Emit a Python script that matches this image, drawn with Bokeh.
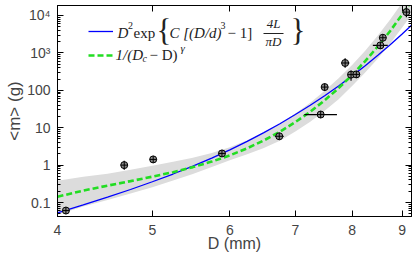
from bokeh.plotting import figure
from bokeh.models import (FixedTicker, LogAxis, CustomJSTickFormatter, BasicTickFormatter,
                          Legend, LegendItem, Label, BoxAnnotation, Range1d)
from bokeh.core.properties import value
from bokeh.embed import file_html
from bokeh.resources import INLINE

# ---- measured points (D in mm, <m> in g) with error bars ----
D    = [4.08, 4.68, 5.01, 5.89, 6.74, 7.43, 7.50, 7.87, 7.98, 8.08, 8.55, 8.60, 9.09]
D_lo = [4.06, 4.66, 4.98, 5.86, 6.67, 7.15, 7.48, 7.80, 7.96, 8.05, 8.40, 8.58, 9.07]
D_hi = [4.10, 4.70, 5.04, 5.92, 6.81, 7.72, 7.52, 7.95, 8.00, 8.11, 8.70, 8.62, 9.11]
m    = [0.061, 1.0, 1.42, 2.05, 5.9, 22.5, 122, 537, 262, 266, 1585, 2540, 12300]
m_lo = [0.050, 0.75, 1.30, 1.90, 5.5, 21, 96, 400, 180, 250, 1500, 2300, 9000]
m_hi = [0.075, 1.30, 1.55, 2.20, 6.4, 24, 150, 720, 340, 285, 1700, 2800, 18000]

# ---- fitted curves ----
curve_D = [4.0, 4.25, 4.5, 4.75, 5.0, 5.25, 5.5, 5.75, 6.0, 6.25, 6.5, 6.75,
           7.0, 7.25, 7.5, 7.75, 8.0, 8.25, 8.5, 8.75, 9.0, 9.2]
blue_m  = [0.0525, 0.086, 0.139, 0.223, 0.359, 0.578, 0.944, 1.545, 2.567, 4.33, 7.38, 12.78,
           22.5, 39.8, 71.8, 131, 243, 455, 860, 1651, 3210, 5490]
green_m = [0.143, 0.208, 0.283, 0.373, 0.490, 0.648, 0.884, 1.24, 1.82, 2.82, 4.57, 7.80,
           14.1, 26.8, 53.9, 114, 255, 603, 1485, 3856, 10550, 24200]
band_hi = [0.382, 0.491, 0.592, 0.757, 0.962, 1.234, 1.584, 2.092, 2.98, 4.61, 7.46, 12.76,
           23.8, 46.6, 96.6, 211, 472, 1148, 2920, 7810, 22000, 53700]
band_lo = [0.0473, 0.0778, 0.1163, 0.1734, 0.257, 0.385, 0.575, 0.886, 1.342, 1.95, 2.88, 4.49,
           7.88, 14.5, 28.3, 58.0, 130, 297, 711, 1789, 4746, 10250]

x_ticks = [4, 5, 6, 7, 8, 9]
y_ticks = [0.1, 1, 10, 100, 1000, 10000]
y_minor = [k * 10.0 ** e for e in range(-2, 5) for k in range(2, 10)]

W, H = 415, 257
B_LEFT, B_RIGHT, B_TOP, B_BOTTOM = 57, 4, 5, 41
FRAME_W = W - B_LEFT - B_RIGHT
FRAME_H = H - B_TOP - B_BOTTOM

p = figure(width=W, height=H, x_axis_type="log", y_axis_type="log",
           x_range=Range1d(4.0, 9.2), y_range=Range1d(0.0423, 18480),
           output_backend="svg", toolbar_location=None,
           min_border_left=B_LEFT, min_border_right=B_RIGHT,
           min_border_top=B_TOP, min_border_bottom=B_BOTTOM)
p.grid.visible = False
p.outline_line_color = "black"
p.outline_line_width = 1
p.background_fill_color = "white"
p.border_fill_color = "white"

band_r = p.varea(x=curve_D, y1=band_lo, y2=band_hi, fill_color="#dcdcdc", fill_alpha=1)
blue_r = p.line(curve_D, blue_m, line_color="#0000ff", line_width=1.3)
green_r = p.line(curve_D, green_m, line_color="#22dd22", line_width=2.6, line_dash="6 3")
p.segment(x0=D_lo, y0=m, x1=D_hi, y1=m, line_color="black", line_width=1.2)
p.segment(x0=D, y0=m_lo, x1=D, y1=m_hi, line_color="black", line_width=1.2)
p.scatter(D, m, marker="circle_cross", size=7, fill_color="#8a8a8a",
          line_color="black", line_width=1)

xt = FixedTicker(ticks=x_ticks)
yt = FixedTicker(ticks=y_ticks, minor_ticks=y_minor)
yfmt = CustomJSTickFormatter(code="""
if (tick >= 9999) return '10\u2074';
if (tick >= 999) return '10\u00b3';
if (tick < 0.5) return '0.1';
return tick.toFixed(0);
""")

def style(ax):
    ax.axis_line_color = "black"
    ax.major_tick_line_color = "black"
    ax.minor_tick_line_color = "black"
    ax.major_tick_in = 6
    ax.major_tick_out = 0
    ax.minor_tick_in = 3
    ax.minor_tick_out = 0

xa = p.xaxis[0]
xa.ticker = xt
xa.formatter = BasicTickFormatter()
style(xa)
xa.minor_tick_line_color = None
xa.major_label_text_font = "Liberation Sans"
xa.major_label_text_font_size = "14px"
xa.major_label_standoff = 8
xa.axis_label = "D (mm)"
xa.axis_label_text_font = "Liberation Sans"
xa.axis_label_text_font_size = "16px"
xa.axis_label_text_font_style = "normal"
xa.axis_label_standoff = -3

ya = p.yaxis[0]
ya.ticker = yt
ya.formatter = yfmt
style(ya)
ya.major_label_text_font = "Liberation Sans"
ya.major_label_text_font_size = "14px"
ya.major_label_standoff = 7
ya.axis_label = "<m> (g)"
ya.axis_label_text_font = "Liberation Sans"
ya.axis_label_text_font_size = "17px"
ya.axis_label_text_font_style = "normal"
ya.axis_label_standoff = 0

empty = CustomJSTickFormatter(code="return '';")
ra = LogAxis(ticker=yt, formatter=empty, major_label_standoff=0,
             major_label_text_font_size="0px", axis_label=None)
style(ra)
ta = LogAxis(ticker=xt, formatter=empty, major_label_standoff=0,
             major_label_text_font_size="0px", axis_label=None)
style(ta)
ta.minor_tick_line_color = None
p.add_layout(ra, "right")
p.add_layout(ta, "above")

# page coordinates -> frame-relative screen coordinates
FL, FB, FT = B_LEFT, H - B_BOTTOM, B_TOP

# ---- legend (line samples) ----
leg_top = 31 - 10 - FT
leg = Legend(items=[LegendItem(label=value(" "), renderers=[blue_r]),
                    LegendItem(label=value(" "), renderers=[green_r])],
             location=(88 - FL, FRAME_H - leg_top - 44), glyph_width=25, glyph_height=20,
             label_height=20, label_width=1, spacing=4, padding=0, margin=0,
             label_standoff=0, label_text_font_size="2px",
             border_line_color=None, background_fill_alpha=0)
p.add_layout(leg)

# ---- legend formula text ----
def put(text, wx, wy, size, style="italic", align="left"):
    p.add_layout(Label(x=wx - FL, y=FB - wy, x_units="screen", y_units="screen",
                       text=text, text_font="Liberation Serif", text_font_size=f"{size}px",
                       text_font_style=style, text_align=align, text_baseline="middle",
                       text_color="#222222"))

put("D", 117, 32, 15)
put("2", 127.5, 25, 10, "normal")
put("exp", 133, 32, 15, "normal")
put("{", 156, 30, 31, "normal")
put("C [(D/d)", 169, 32, 15)
put("3", 220, 25, 10, "normal")
put("\u2212 1]", 227, 32, 15, "normal")
put("4L", 273, 23, 13, "italic", "center")
put("\u03c0D", 273, 41, 13, "italic", "center")
put("}", 290, 30, 31, "normal")
p.add_layout(BoxAnnotation(left=263 - FL, right=283 - FL,
                           bottom=FB - 33.5, top=FB - 32.5,
                           left_units="screen", right_units="screen",
                           top_units="screen", bottom_units="screen",
                           fill_color="#222222", fill_alpha=1, line_color=None))

put("1/(D", 115, 54, 15)
put("c", 142, 58, 10)
put("\u2212 D)", 149, 54, 15, "normal")
put("\u03b3", 180, 47, 11)

open("out.html", "w").write(file_html(p, INLINE))
